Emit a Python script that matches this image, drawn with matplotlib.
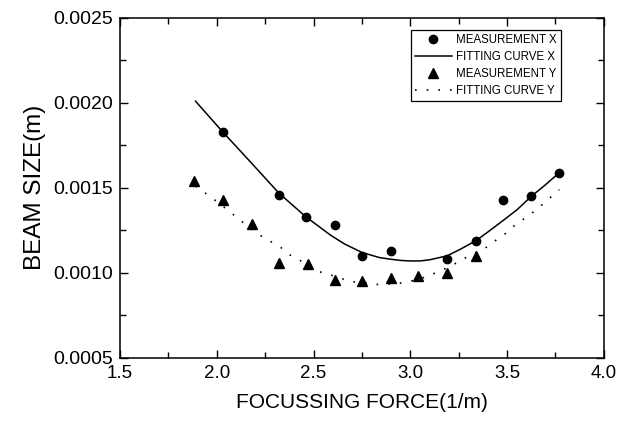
import matplotlib
matplotlib.use('Agg')
import matplotlib.pyplot as plt
from matplotlib.ticker import MultipleLocator, FormatStrFormatter

plt.rcParams['font.family'] = ['Liberation Sans', 'DejaVu Sans']

# measured points
meas_x_f = [2.03, 2.32, 2.46, 2.61, 2.75, 2.90, 3.19, 3.34, 3.48, 3.625, 3.77]
meas_x_s = [0.00183, 0.00146, 0.00133, 0.00128, 0.00110, 0.00113, 0.00108, 0.00119, 0.00143, 0.00145, 0.00159]

meas_y_f = [1.88, 2.03, 2.18, 2.32, 2.47, 2.61, 2.75, 2.90, 3.04, 3.19, 3.34]
meas_y_s = [0.00154, 0.00143, 0.00129, 0.00106, 0.00105, 0.00096, 0.00095, 0.00097, 0.00098, 0.00100, 0.00110]

# fitting curves
fit_x_f = [1.89, 2.03, 2.18, 2.32, 2.46, 2.59, 2.66, 2.75, 2.84, 2.90, 2.95, 3.0, 3.05, 3.10, 3.19, 3.26, 3.34, 3.40, 3.47, 3.55, 3.625, 3.70, 3.77]
fit_x_s = [0.00201, 0.00183, 0.001645, 0.00147, 0.00133, 0.00122, 0.00117, 0.00112, 0.00109, 0.00108, 0.001073, 0.00107, 0.00107, 0.001077, 0.00110, 0.00114, 0.00119, 0.00124, 0.00130, 0.00137, 0.00145, 0.00152, 0.00159]

fit_y_f = [1.89, 1.94, 2.0, 2.05, 2.11, 2.21, 2.27, 2.33, 2.37, 2.42, 2.52, 2.64, 2.68, 2.78, 2.84, 2.95, 3.04, 3.11, 3.21, 3.27, 3.38, 3.44, 3.49, 3.54, 3.59, 3.65, 3.70, 3.75, 3.77]
fit_y_s = [0.00151, 0.00147, 0.00142, 0.001375, 0.00132, 0.00123, 0.00119, 0.00115, 0.00111, 0.00108, 0.00101, 0.00097, 0.00095, 0.00094, 0.00093, 0.00094, 0.00096, 0.00099, 0.00104, 0.00108, 0.00114, 0.00119, 0.00123, 0.00128, 0.00132, 0.00137, 0.00142, 0.00147, 0.00149]

fig = plt.figure(figsize=(6.35, 4.26), dpi=100)
ax = fig.add_axes([0.189, 0.160, 0.762, 0.798])

ax.plot(meas_x_f, meas_x_s, 'o', color='black', markersize=6, label='MEASUREMENT X')
ax.plot(fit_x_f, fit_x_s, '-', color='black', linewidth=1.1, label='FITTING CURVE X')
ax.plot(meas_y_f, meas_y_s, '^', color='black', markersize=7.5, label='MEASUREMENT Y')
ax.plot(fit_y_f, fit_y_s, color='black', linewidth=1.2, linestyle=(0, (1, 6)), label='FITTING CURVE Y')

ax.set_xlim(1.5, 4.0)
ax.set_ylim(0.0005, 0.0025)
ax.xaxis.set_major_locator(MultipleLocator(0.5))
ax.xaxis.set_minor_locator(MultipleLocator(0.25))
ax.yaxis.set_major_locator(MultipleLocator(0.0005))
ax.yaxis.set_minor_locator(MultipleLocator(0.00025))
ax.xaxis.set_major_formatter(FormatStrFormatter('%.1f'))
ax.yaxis.set_major_formatter(FormatStrFormatter('%.4f'))

ax.tick_params(which='both', direction='in', top=True, right=True)
ax.tick_params(which='major', length=6, width=1)
ax.tick_params(which='minor', length=4, width=1)
ax.tick_params(axis='x', labelsize=13.5, pad=5)
ax.tick_params(axis='y', labelsize=14, pad=5)
for s in ax.spines.values():
    s.set_linewidth(1.1)

ax.set_xlabel('FOCUSSING FORCE(1/m)', fontsize=15, labelpad=8)
ax.set_ylabel('BEAM SIZE(m)', fontsize=17.5, labelpad=5)

leg = ax.legend(loc='upper right', bbox_to_anchor=(0.911, 0.965), fontsize=8.3,
                frameon=True, fancybox=False, framealpha=1, edgecolor='black',
                handlelength=3.2, handletextpad=0.4, borderpad=0.35, labelspacing=0.45,
                borderaxespad=0)
leg.get_frame().set_linewidth(0.9)

plt.savefig('out.png', dpi=100)
